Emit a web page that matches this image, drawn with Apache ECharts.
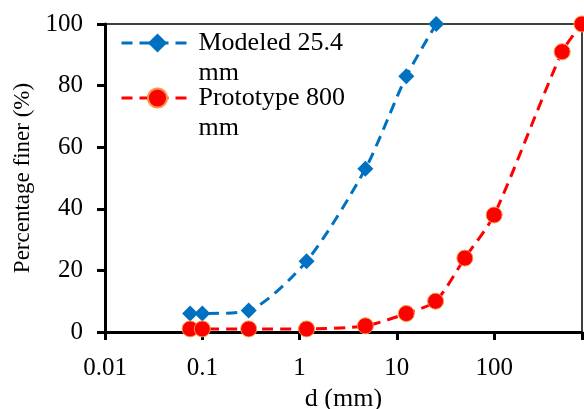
<!DOCTYPE html>
<html>
<head>
<meta charset="utf-8">
<script src="https://cdn.jsdelivr.net/npm/echarts@6/dist/echarts.min.js"></script>
<style>
  html, body { margin: 0; padding: 0; background: #fff; }
  #chart { width: 584px; height: 409px; }
</style>
</head>
<body>
<div id="chart"></div>
<script>
// grain size (mm) and percentage finer
const modeledName = 'Modeled 25.4 mm'
const modeledD = [0.075, 0.1, 0.3, 1.18, 4.75, 12.5, 25.4]
const modeledPct = [6, 6, 7, 23, 53, 83, 100]

const protoName = 'Prototype 800 mm'
const protoD = [0.075, 0.1, 0.3, 1.18, 4.75, 12.5, 25, 50, 100, 500, 800]
const protoPct = [1, 1, 1, 1, 2, 6, 10, 24, 38, 91, 100]

const yTicks = [0, 20, 40, 60, 80, 100]

const FONT = '"Liberation Serif", "Times New Roman", serif'
const BLUE = '#0070C0'
const RED = '#FF0000'
const LINE_H = 30

const pairs = (xs, ys) => xs.map((x, i) => [x, ys[i]])
const isDecade = v => Math.abs(Math.log10(v) - Math.round(Math.log10(v))) < 1e-6

// wrap "... mm" onto a second line; a blank first line keeps the icon level with the name
const legendFor = (name, iconY) => ({
  data: [name],
  left: 120,
  top: iconY - 1.5 * LINE_H,
  padding: 0,
  itemWidth: 72,
  itemHeight: 24,
  itemGap: 0,
  selectedMode: false,
  lineStyle: { width: 3 },
  formatter: n => ' \n' + n.replace(/ mm$/, '\nmm'),
  textStyle: { fontFamily: FONT, fontSize: 26, color: '#000', lineHeight: LINE_H }
})

const chart = echarts.init(document.getElementById('chart'))
chart.setOption({
  animation: false,
  textStyle: { fontFamily: FONT },
  grid: {
    left: 105, right: 2, top: 24, bottom: 77,
    outerBoundsMode: 'none',
    containLabel: false,
    show: true, borderColor: '#000', borderWidth: 1.5
  },
  legend: [
    legendFor(modeledName, 43),
    legendFor(protoName, 98)
  ],
  xAxis: {
    type: 'log',
    logBase: 10,
    min: 0.01,
    max: 800,
    name: 'd (mm)',
    nameLocation: 'middle',
    nameGap: 53,
    nameTextStyle: { fontFamily: FONT, fontSize: 26, color: '#000' },
    axisLine: { lineStyle: { color: '#000', width: 3 } },
    axisTick: { length: 8, lineStyle: { color: '#000', width: 3 }, interval: (i, v) => isDecade(v) },
    axisLabel: {
      fontFamily: FONT, fontSize: 25, color: '#000', margin: 24,
      interval: (i, v) => isDecade(v),
      formatter: v => isDecade(v) ? String(+v.toPrecision(3)) : ''
    },
    splitLine: { show: false },
    minorTick: { show: false }
  },
  yAxis: {
    type: 'value',
    min: yTicks[0],
    max: yTicks[yTicks.length - 1],
    interval: yTicks[1] - yTicks[0],
    name: 'Percentage finer (%)',
    nameLocation: 'middle',
    nameGap: 66,
    nameTextStyle: { fontFamily: FONT, fontSize: 23, color: '#000' },
    axisLine: { show: true, lineStyle: { color: '#000', width: 3 } },
    axisTick: { show: true, length: 8, lineStyle: { color: '#000', width: 3 } },
    axisLabel: { fontFamily: FONT, fontSize: 25, color: '#000', margin: 22 },
    splitLine: { show: false }
  },
  series: [
    {
      name: modeledName,
      type: 'line',
      data: pairs(modeledD, modeledPct),
      smooth: 0.25,
      clip: false,
      symbol: 'diamond',
      symbolSize: 16,
      itemStyle: { color: BLUE },
      lineStyle: { color: BLUE, width: 3, type: [11, 7] }
    },
    {
      name: protoName,
      type: 'line',
      data: pairs(protoD, protoPct),
      smooth: 0.25,
      clip: false,
      symbol: 'circle',
      symbolSize: 16,
      itemStyle: { color: RED, borderColor: '#F79646', borderWidth: 1 },
      lineStyle: { color: RED, width: 3, type: [11, 7] }
    }
  ]
})
</script>
</body>
</html>
